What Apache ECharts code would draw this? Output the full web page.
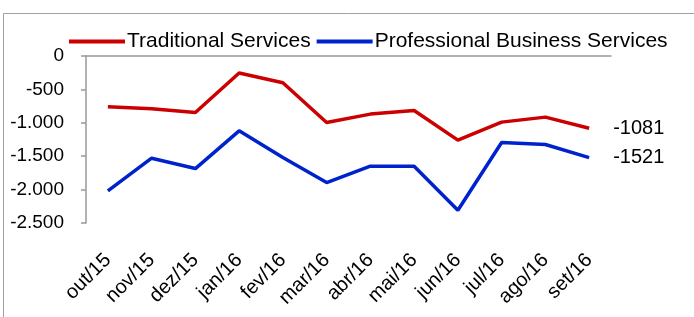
<!DOCTYPE html>
<html>
<head>
<meta charset="utf-8">
<script src="https://cdn.jsdelivr.net/npm/echarts@6/dist/echarts.min.js"></script>
<style>
  html, body { margin: 0; padding: 0; background: #fff; }
  #chart { width: 694px; height: 317px; }
</style>
</head>
<body>
<div id="chart"></div>
<script>
var months = ['out/15', 'nov/15', 'dez/15', 'jan/16', 'fev/16', 'mar/16', 'abr/16', 'mai/16', 'jun/16', 'jul/16', 'ago/16', 'set/16']
var traditional = [-760, -790, -845, -255, -400, -995, -870, -815, -1260, -990, -915, -1081]
var professional = [-2020, -1530, -1685, -1120, -1520, -1895, -1650, -1650, -2310, -1295, -1325, -1521]

var font = 'Liberation Sans, Arial, sans-serif'

var myChart = echarts.init(document.getElementById('chart'))
myChart.setOption({
  animation: false,
  graphic: [
    {
      type: 'polyline',
      shape: { points: [[3.5, 317], [3.5, 13.5], [694, 13.5]] },
      style: { stroke: '#a0a0a0', lineWidth: 1, fill: 'none' }
    }
  ],
  legend: {
    top: 26,
    left: 64,
    icon: 'rect',
    itemWidth: 56,
    itemHeight: 4,
    itemGap: 6,
    textStyle: { fontFamily: font, fontSize: 21, color: '#000', padding: [0, 0, 0, -3] },
    data: ['Traditional Services', 'Professional Business Services']
  },
  grid: { left: 86, right: 83, top: 56, bottom: 94 },
  xAxis: [
    {
      type: 'category',
      position: 'top',
      data: months,
      axisLine: { lineStyle: { color: '#999999', width: 1.5 } },
      axisTick: { inside: true, length: 5, lineStyle: { color: '#999999', width: 1.5 } },
      axisLabel: { show: false }
    },
    {
      type: 'category',
      position: 'bottom',
      data: months,
      axisLine: { show: false },
      axisTick: { show: false },
      axisLabel: {
        rotate: 45,
        margin: 34,
        interval: 0,
        fontFamily: font,
        fontSize: 20,
        color: '#000'
      }
    }
  ],
  yAxis: {
    type: 'value',
    min: -2500,
    max: 0,
    interval: 500,
    axisLine: { show: true, lineStyle: { color: '#999999', width: 1.5 } },
    axisTick: { show: true, length: 5, lineStyle: { color: '#999999', width: 1.5 } },
    splitLine: { show: false },
    axisLabel: {
      margin: 22,
      fontFamily: font,
      fontSize: 19,
      color: '#000',
      formatter: function (v) {
        var s = Math.abs(v).toString().replace(/\B(?=(\d{3})+(?!\d))/g, '.')
        return (v < 0 ? '-' : '') + s
      }
    }
  },
  series: [
    {
      name: 'Traditional Services',
      type: 'line',
      data: traditional,
      showSymbol: false,
      symbol: 'none',
      lineStyle: { color: '#cc0000', width: 3.5 },
      itemStyle: { color: '#cc0000' },
      endLabel: {
        show: true,
        distance: 24,
        fontFamily: font,
        fontSize: 20,
        color: '#000',
        formatter: '{c}'
      }
    },
    {
      name: 'Professional Business Services',
      type: 'line',
      data: professional,
      showSymbol: false,
      symbol: 'none',
      lineStyle: { color: '#0022cc', width: 3.5 },
      itemStyle: { color: '#0022cc' },
      endLabel: {
        show: true,
        distance: 24,
        fontFamily: font,
        fontSize: 20,
        color: '#000',
        formatter: '{c}'
      }
    }
  ]
})
</script>
</body>
</html>
